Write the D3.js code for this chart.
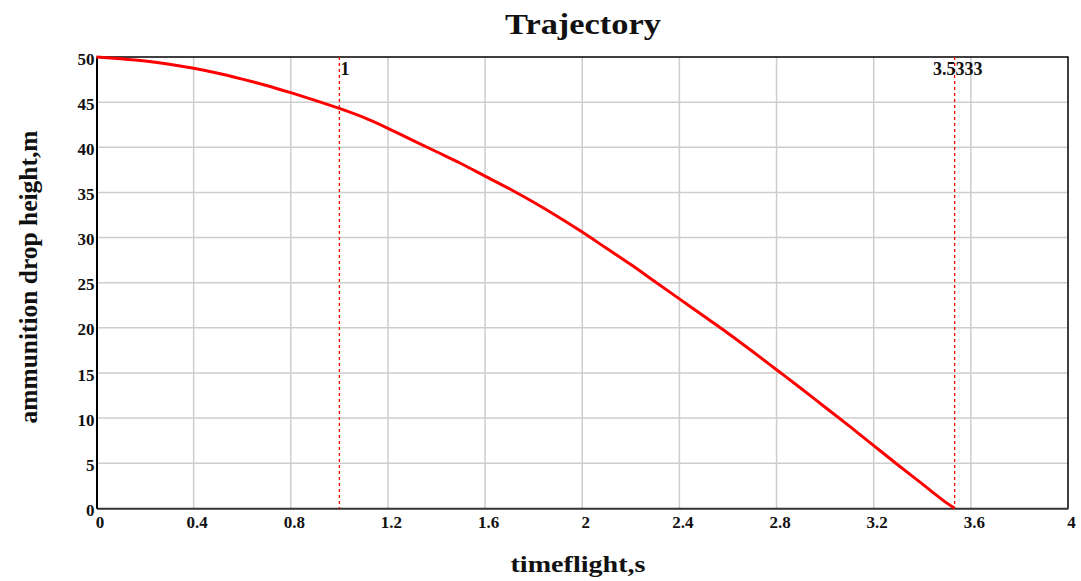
<!DOCTYPE html>
<html>
<head>
<meta charset="utf-8">
<script src="https://cdn.jsdelivr.net/npm/d3@7"></script>
<style>
  body { margin: 0; background: #fff; }
  svg text { font-family: "Liberation Serif", "Times New Roman", serif; font-weight: bold; fill: #111; }
</style>
</head>
<body>
<div id="chart"></div>
<script>
// flight time (s) and ammunition height (m)
const times   = [0, 0.1, 0.2, 0.3, 0.4, 0.5, 0.6, 0.7, 0.8, 0.9, 1.0, 1.1, 1.2, 1.3, 1.4, 1.5, 1.6, 1.7, 1.8,
                 1.9, 2.0, 2.1, 2.2, 2.3, 2.4, 2.5, 2.6, 2.7, 2.8, 2.9, 3.0, 3.1, 3.2, 3.3, 3.4, 3.5, 3.5333];
const heights = [50, 49.8, 49.55, 49.2, 48.75, 48.2, 47.55, 46.85, 46.05, 45.2, 44.3, 43.3, 42.1, 40.8, 39.5, 38.2, 36.8, 35.4, 33.9,
                 32.3, 30.6, 28.8, 27.0, 25.1, 23.2, 21.3, 19.4, 17.4, 15.35, 13.3, 11.2, 9.1, 6.95, 4.8, 2.7, 0.6, 0];

const xTicks = [0, 0.4, 0.8, 1.2, 1.6, 2, 2.4, 2.8, 3.2, 3.6, 4];
const yTicks = [0, 5, 10, 15, 20, 25, 30, 35, 40, 45, 50];

// vertical marker lines and their labels
const markerTimes  = [1, 3.5333];
const markerLabels = ["1", "3.5333"];

//---------------------------SPACE SETUP---------------------------------
const W = 1081, H = 581;
const margin = { top: 57, right: 13, bottom: 72.7, left: 96.5 };
const width = W - margin.left - margin.right;
const height = H - margin.top - margin.bottom;

const svg = d3.select("#chart").append("svg")
    .attr("width", W)
    .attr("height", H);

const g = svg.append("g")
    .attr("transform", `translate(${margin.left}, ${margin.top})`);

//---------------------------SCALES---------------------------------
const x = d3.scaleLinear().domain([0, 4]).range([0, width]);
const y = d3.scaleLinear().domain([0, 50]).range([height, 0]);

//---------------------------GRID---------------------------------
g.append("g").selectAll("line")
    .data(xTicks.slice(1, -1))
    .enter().append("line")
        .attr("x1", d => x(d)).attr("x2", d => x(d))
        .attr("y1", 0).attr("y2", height)
        .attr("stroke", "#cdcdcd").attr("stroke-width", 1.5);

g.append("g").selectAll("line")
    .data(yTicks.slice(1, -1))
    .enter().append("line")
        .attr("x1", 0).attr("x2", width)
        .attr("y1", d => y(d)).attr("y2", d => y(d))
        .attr("stroke", "#cdcdcd").attr("stroke-width", 1.5);

//---------------------------AXES---------------------------------
const xAxis = g.append("g")
    .attr("transform", `translate(0, ${height})`)
    .call(d3.axisBottom(x).tickValues(xTicks).tickSize(0).tickPadding(8).tickFormat(d => String(d)));
xAxis.select(".domain").attr("stroke", "#333").attr("stroke-width", 2);
xAxis.selectAll("text").attr("font-size", 17).attr("dx", 3).attr("fill", "#111");

const yAxis = g.append("g")
    .call(d3.axisLeft(y).tickValues(yTicks).tickSize(0).tickPadding(2).tickFormat(d => String(d)));
yAxis.select(".domain").attr("stroke", "#000").attr("stroke-width", 2);
yAxis.selectAll("text").attr("font-size", 17).attr("dy", "0.42em").attr("fill", "#111");

// top and right frame
g.append("path")
    .attr("d", `M0,0H${width}V${height}`)
    .attr("fill", "none")
    .attr("stroke", "#000")
    .attr("stroke-width", 1.5);

//---------------------------MARKERS---------------------------------
g.selectAll(".marker")
    .data(markerTimes)
    .enter().append("line")
        .attr("class", "marker")
        .attr("x1", d => x(d)).attr("x2", d => x(d))
        .attr("y1", 0).attr("y2", height)
        .attr("stroke", "#ff0000")
        .attr("stroke-width", 1.3)
        .attr("stroke-dasharray", "3,3");

g.selectAll(".marker-label")
    .data(markerTimes)
    .enter().append("text")
        .attr("class", "marker-label")
        .attr("x", (d, i) => i === 0 ? x(d) + 1 : x(d) + 3)
        .attr("y", 18)
        .attr("text-anchor", (d, i) => i === 0 ? "start" : "middle")
        .attr("font-size", 18)
        .text((d, i) => markerLabels[i]);

//---------------------------CURVE---------------------------------
const line = d3.line()
    .x((d, i) => x(times[i]))
    .y(d => y(d))
    .curve(d3.curveMonotoneX);

g.append("path")
    .datum(heights)
    .attr("fill", "none")
    .attr("stroke", "#ff0000")
    .attr("stroke-width", 3)
    .attr("stroke-linejoin", "round")
    .attr("d", line);

//---------------------------TITLES---------------------------------
svg.append("text")
    .attr("x", 583).attr("y", 34)
    .attr("text-anchor", "middle")
    .attr("font-size", 30)
    .attr("textLength", 156)
    .attr("lengthAdjust", "spacingAndGlyphs")
    .text("Trajectory");

svg.append("text")
    .attr("x", 578).attr("y", 572)
    .attr("text-anchor", "middle")
    .attr("font-size", 23)
    .attr("textLength", 135)
    .attr("lengthAdjust", "spacingAndGlyphs")
    .text("timeflight,s");

svg.append("text")
    .attr("transform", "translate(37, 277) rotate(-90)")
    .attr("text-anchor", "middle")
    .attr("font-size", 25)
    .attr("textLength", 293)
    .attr("lengthAdjust", "spacingAndGlyphs")
    .text("ammunition drop height,m");
</script>
</body>
</html>
